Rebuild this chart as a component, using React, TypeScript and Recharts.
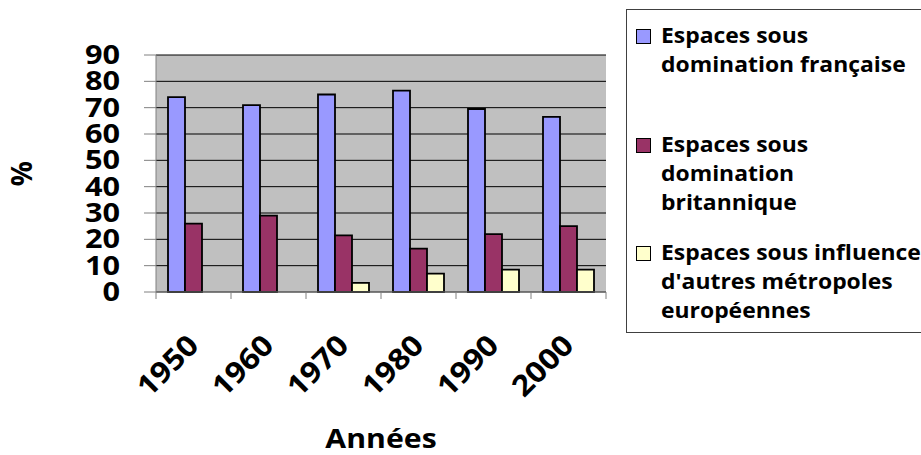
import React from 'react';
import { BarChart, Bar, XAxis, YAxis, CartesianGrid, Label } from 'recharts';

const years = ['1950', '1960', '1970', '1980', '1990', '2000'];
const francaise = [74, 71, 75, 76.5, 69.5, 66.5];
const britannique = [26, 29, 21.5, 16.5, 22, 25];
const autres = [null, null, 3.5, 7, 8.5, 8.5];
const yTicks = [0, 10, 20, 30, 40, 50, 60, 70, 80, 90];

const seriesNames = [
  ['Espaces sous', 'domination française'],
  ['Espaces sous', 'domination', 'britannique'],
  ["Espaces sous influence", "d'autres métropoles", 'européennes'],
];
const seriesColors = ['#9999FF', '#993366', '#FFFFCC'];

const data = years.map((year, i) => ({
  year,
  francaise: francaise[i],
  britannique: britannique[i],
  autres: autres[i],
}));

const FONT = '"Open Sans", sans-serif';

// year labels at -45deg plus tick marks on the category boundaries
const YearTick = (props: any) => {
  const { x, y, payload, index } = props;
  const half = payload && payload.offset ? payload.offset : 37.5;
  const ax = x + 7;
  const ay = y + 55;
  return (
    <g>
      <line x1={x - half} y1={y} x2={x - half} y2={y + 7} stroke="#808080" />
      {index === years.length - 1 && (
        <line x1={x + half} y1={y} x2={x + half} y2={y + 7} stroke="#808080" />
      )}
      <text
        x={0}
        y={0}
        textAnchor="end"
        transform={`translate(${ax}, ${ay}) rotate(-45) scale(1.1, 1)`}
        fontFamily={FONT}
        fontWeight="bold"
        fontSize={29}
        fill="#000"
      >
        {payload.value}
      </text>
    </g>
  );
};

const ValueTick = (props: any) => {
  const { x, y, payload } = props;
  return (
    <text
      x={0}
      y={0}
      dy={9}
      textAnchor="end"
      transform={`translate(${x}, ${y}) scale(1.18, 1)`}
      fontFamily={FONT}
      fontWeight="bold"
      fontSize={26}
      fill="#000"
    >
      {payload.value}
    </text>
  );
};

const AxisTitle = (props: any) => {
  const { viewBox } = props;
  const cx = viewBox.x + viewBox.width / 2;
  const by = viewBox.y + viewBox.height - 7;
  return (
    <text
      x={0}
      y={0}
      textAnchor="middle"
      transform={`translate(${cx}, ${by}) scale(1.12, 1)`}
      fontFamily={FONT}
      fontWeight="bold"
      fontSize={27}
      fill="#000"
    >
      Années
    </text>
  );
};

const App: React.FC = () => {
  return (
    <div style={{ position: 'absolute', left: 0, top: 0, width: 921, height: 455, background: '#fff', overflow: 'hidden' }}>
      <BarChart
        width={921}
        height={455}
        data={data}
        margin={{ top: 55, right: 315, left: 0, bottom: 0 }}
        barCategoryGap="16%"
        barGap={0}
      >
        <CartesianGrid fill="#C0C0C0" stroke="#000" vertical={false} />
        <XAxis
          dataKey="year"
          height={163}
          tickLine={false}
          tickSize={0}
          tickMargin={0}
          axisLine={{ stroke: '#808080' }}
          tick={<YearTick />}
          interval={0}
        >
          <Label content={<AxisTitle />} />
        </XAxis>
        <YAxis
          width={156}
          domain={[0, 90]}
          ticks={yTicks}
          interval={0}
          tickSize={12}
          tickMargin={24}
          tickLine={{ stroke: '#808080' }}
          axisLine={{ stroke: '#808080' }}
          tick={<ValueTick />}
        >
          <Label
            value="%"
            angle={-90}
            position="center"
            dx={-56}
            style={{ fontFamily: FONT, fontWeight: 'bold', fontSize: 28, fill: '#000' }}
          />
        </YAxis>
        <YAxis yAxisId="right" orientation="right" width={0} tick={false} tickLine={false} axisLine={{ stroke: '#808080' }} />
        <Bar dataKey="francaise" fill={seriesColors[0]} stroke="#000" strokeWidth={1.8} isAnimationActive={false} />
        <Bar dataKey="britannique" fill={seriesColors[1]} stroke="#000" strokeWidth={1.8} isAnimationActive={false} />
        <Bar dataKey="autres" fill={seriesColors[2]} stroke="#000" strokeWidth={1.8} isAnimationActive={false} />
      </BarChart>
      <div
        style={{
          position: 'absolute',
          left: 626,
          top: 9,
          width: 320,
          height: 324,
          border: '1px solid #404040',
          boxSizing: 'border-box',
          fontFamily: FONT,
          fontWeight: 'bold',
          fontSize: 21,
          color: '#000',
        }}
      >
        {seriesNames.map((lines, i) => (
          <div key={i} style={{ position: 'absolute', left: 9, top: 11 + i * 108.5, display: 'flex' }}>
            <div
              style={{
                width: 13,
                height: 13,
                marginTop: 8,
                marginRight: 10,
                background: seriesColors[i],
                border: '1.5px solid #000',
                flexShrink: 0,
              }}
            />
            <div style={{ lineHeight: '29px', transform: 'scaleX(1.09)', transformOrigin: 'left top' }}>
              {lines.map((l, j) => (
                <div key={j} style={{ whiteSpace: 'nowrap' }}>{l}</div>
              ))}
            </div>
          </div>
        ))}
      </div>
    </div>
  );
};

export default App;
